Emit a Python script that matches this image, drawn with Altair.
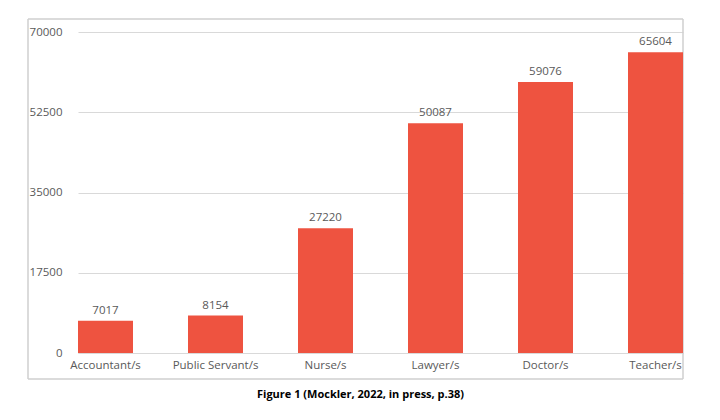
import altair as alt
import pandas as pd

categories = ["Accountant/s", "Public Servant/s", "Nurse/s", "Lawyer/s", "Doctor/s", "Teacher/s"]
values = [7017, 8154, 27220, 50087, 59076, 65604]
y_ticks = [0, 17500, 35000, 52500, 70000]
caption = "Figure 1 (Mockler, 2022, in press, p.38)"

df = pd.DataFrame({"cat": categories, "val": values})

FONT = "Open Sans"
GRAY = "#595959"
BAR = "#EE5340"
FRAME = "#cfcfcf"

x = alt.X("cat:N", sort=categories,
          scale=alt.Scale(paddingInner=0.5, paddingOuter=0),
          axis=alt.Axis(title=None, labelAngle=0, ticks=False, domainColor="#d9d9d9",
                        labelPadding=6, labelFont=FONT, labelFontSize=11.5,
                        labelColor=GRAY))
y = alt.Y("val:Q", scale=alt.Scale(domain=[0, 70000], nice=False),
          axis=alt.Axis(title=None, values=y_ticks, domain=False, ticks=False,
                        labelPadding=16, labelFont=FONT, labelFontSize=11.5,
                        labelColor=GRAY, gridColor="#d9d9d9", format="d"))

base1 = alt.Chart(df).transform_filter("datum.cat == 'Accountant/s'")
frame_top = base1.mark_rule(color=FRAME, strokeWidth=1.5).encode(
    x=alt.value(-50), x2=alt.value(605), y=alt.value(-13))
frame_bottom = base1.mark_rule(color=FRAME, strokeWidth=1.5).encode(
    x=alt.value(-50), x2=alt.value(605), y=alt.value(347))
frame_left = base1.mark_rule(color=FRAME, strokeWidth=1.5).encode(
    x=alt.value(-50), x2=alt.value(-50), y=alt.value(-13), y2=alt.value(347))
frame_right = base1.mark_rule(color=FRAME, strokeWidth=1.5).encode(
    x=alt.value(605), x2=alt.value(605), y=alt.value(-13), y2=alt.value(347))

bars = alt.Chart(df).mark_bar(color=BAR).encode(x=x, y=y)
labels = alt.Chart(df).mark_text(baseline="bottom", dy=-5, font=FONT, fontSize=11.5,
                                 color=GRAY).encode(
    x=alt.X("cat:N", sort=categories), y="val:Q", text="val:Q")

chart = alt.layer(frame_top, frame_bottom, frame_left, frame_right, bars, labels).properties(
    width=605, height=321,
    title=alt.TitleParams(caption, orient="bottom", anchor="middle", dx=-20, offset=9,
                          font=FONT, fontSize=11, fontWeight="bold", color="#000000"),
    autosize=alt.AutoSizeParams(type="none"),
    padding={"left": 70, "top": 24, "right": 29, "bottom": 59},
).configure_view(stroke=None)

chart.save("out.html", embed_options={"renderer": "svg", "actions": False})
